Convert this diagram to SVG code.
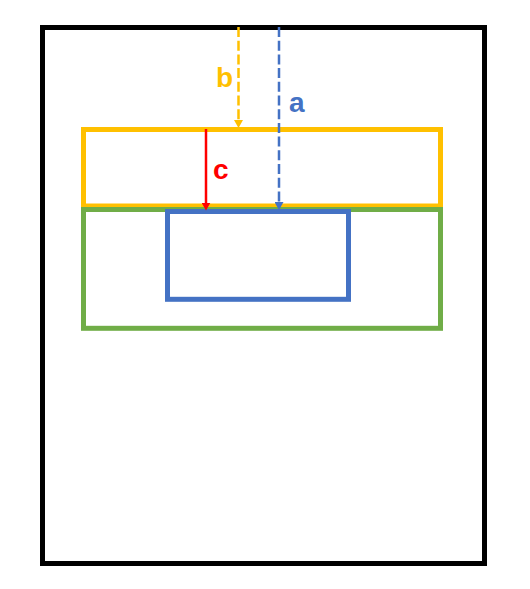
<svg xmlns="http://www.w3.org/2000/svg" width="530" height="589" viewBox="0 0 530 589">
<style>
.box{fill:none;stroke-width:5}
.conn{fill:none;stroke-width:2.5}
.dash{stroke-dasharray:10 3.7}
.lbl{font-family:"Liberation Sans",Arial,sans-serif;font-weight:bold;font-size:28px}
</style>
<defs>
<marker id="hy" markerUnits="userSpaceOnUse" markerWidth="9" markerHeight="9" refX="2" refY="4.5" orient="auto"><path d="M0,0 L8,4.5 L0,9 z" fill="#FFC000"/></marker>
<marker id="hb" markerUnits="userSpaceOnUse" markerWidth="9" markerHeight="9" refX="2" refY="4.5" orient="auto"><path d="M0,0 L8,4.5 L0,9 z" fill="#4472C4"/></marker>
<marker id="hr" markerUnits="userSpaceOnUse" markerWidth="9" markerHeight="9" refX="2" refY="4.5" orient="auto"><path d="M0,0 L8,4.5 L0,9 z" fill="#FF0000"/></marker>
</defs>
<rect width="530" height="589" fill="#FFFFFF"/>
<g id="frame"><rect class="box" x="42.5" y="27.5" width="442" height="536" stroke="#000000"/></g>
<g id="yellow-box"><rect class="box" x="83.5" y="129.5" width="357" height="76.5" stroke="#FFC000"/></g>
<g id="green-box"><rect class="box" x="83.5" y="209.5" width="357" height="118.8" stroke="#70AD47"/></g>
<g id="blue-box"><rect class="box" x="167.5" y="211.5" width="181" height="87.8" stroke="#4472C4"/></g>
<g id="connectors">
<line class="conn dash" x1="238.5" y1="27" x2="238.5" y2="122" stroke="#FFC000" marker-end="url(#hy)"/>
<line class="conn dash" x1="279" y1="27" x2="279" y2="204" stroke="#4472C4" marker-end="url(#hb)"/>
<line class="conn" x1="206" y1="129" x2="206" y2="204.5" stroke="#FF0000" marker-end="url(#hr)"/>
<text class="lbl" x="216" y="87" fill="#FFC000">b</text>
<text class="lbl" x="289" y="112" fill="#4472C4">a</text>
<text class="lbl" x="213" y="178.5" fill="#FF0000">c</text>
</g>
</svg>
